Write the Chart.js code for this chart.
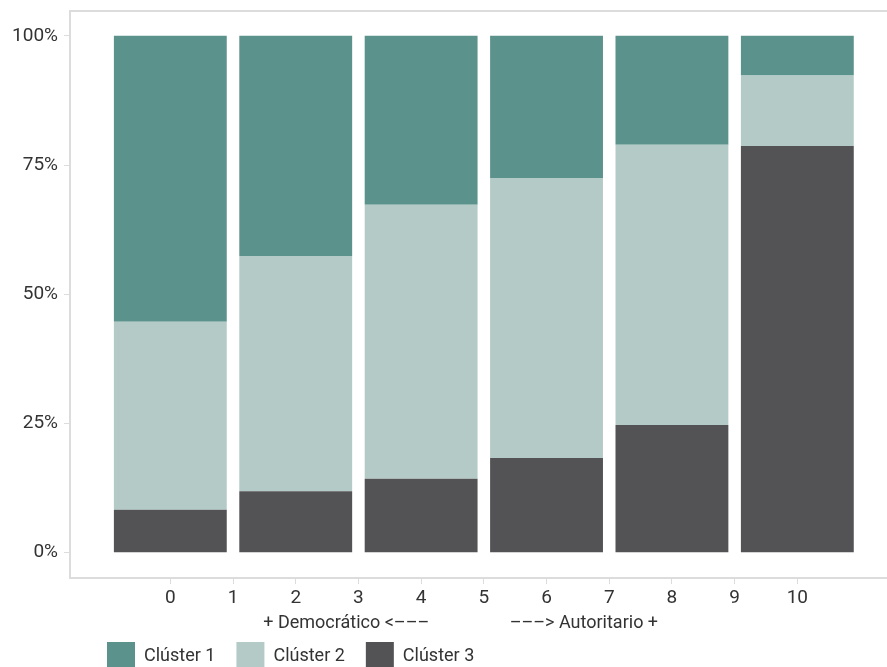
<!DOCTYPE html>
<html>
<head>
<meta charset="utf-8">
<script src="https://cdn.jsdelivr.net/npm/chart.js@4.4.1/dist/chart.umd.min.js"></script>
<style>
    body { margin: 0; background: #fff; }
    #wrap { width: 887px; height: 667px; }
</style>
</head>
<body>
<div id="wrap"><canvas id="myChart"></canvas></div>
<script>
// Positions on the scale (0 = más democrático, 10 = más autoritario)
const positions = [0, 2, 4, 6, 8, 10];
const xTicks = [0, 1, 2, 3, 4, 5, 6, 7, 8, 9, 10];
const yTicks = [0, 25, 50, 75, 100];

// Share of each cluster (%) per position
const cluster1 = [55.3, 42.6, 32.7, 27.5, 21.1, 7.7];
const cluster2 = [36.4, 45.5, 53.0, 54.2, 54.2, 13.6];
const cluster3 = [8.3, 11.9, 14.3, 18.3, 24.7, 78.7];

const seriesNames = ["Clúster 1", "Clúster 2", "Clúster 3"];
const colors = ["#5b928b", "#b3cac7", "#535355"];

const axisGrey = "#dcdcdc";
const textColor = "#333333";
const fontFamily = "Roboto, 'Noto Sans', sans-serif";

function toPoints(values) {
    return positions.map((x, i) => ({ x: x, y: values[i] }));
}

// top edge of the plot frame
const topLine = {
    id: "topLine",
    afterDraw(chart) {
        const { ctx, chartArea } = chart;
        ctx.save();
        ctx.strokeStyle = axisGrey;
        ctx.lineWidth = 2;
        ctx.beginPath();
        ctx.moveTo(chartArea.left, chartArea.top);
        ctx.lineTo(chartArea.right, chartArea.top);
        ctx.stroke();
        ctx.restore();
    }
};

// put the legend under the axis title, lined up like the original
const moveLegend = {
    id: "moveLegend",
    afterLayout(chart) {
        const lg = chart.legend;
        const pad = lg.options.labels.padding;
        lg.left = 107 - pad;
        lg.top = 642 - pad;
        lg.bottom = chart.height;
    }
};

const ctx = document.getElementById("myChart").getContext("2d");
new Chart(ctx, {
    type: "bar",
    data: {
        datasets: [
            { label: seriesNames[0], data: toPoints(cluster1), backgroundColor: colors[0], order: 3 },
            { label: seriesNames[1], data: toPoints(cluster2), backgroundColor: colors[1], order: 2 },
            { label: seriesNames[2], data: toPoints(cluster3), backgroundColor: colors[2], order: 1 }
        ]
    },
    options: {
        responsive: true,
        maintainAspectRatio: false,
        animation: false,
        barPercentage: 1.8,
        categoryPercentage: 1.0,
        layout: { padding: { top: 11, right: 0, bottom: 0, left: 0 } },
        plugins: {
            tooltip: { enabled: false },
            legend: {
                position: "bottom",
                align: "start",
                maxHeight: 1,
                labels: {
                    boxWidth: 28,
                    boxHeight: 28,
                    padding: 21,
                    color: textColor,
                    font: { family: fontFamily, size: 18 },
                    sort: (a, b) => a.datasetIndex - b.datasetIndex
                }
            }
        },
        scales: {
            x: {
                type: "linear",
                stacked: true,
                offset: false,
                min: -1.6,
                max: 11.43,
                afterBuildTicks: (s) => { s.ticks = xTicks.map(v => ({ value: v })); },
                afterFit: (s) => { s.height = 88; s.paddingLeft = 0; s.paddingRight = 0; },
                grid: { offset: false, drawOnChartArea: false, drawTicks: true, tickLength: 6, color: axisGrey },
                border: { color: axisGrey, width: 2 },
                ticks: {
                    padding: 3,
                    color: textColor,
                    font: { family: fontFamily, size: 19 },
                    maxRotation: 0
                },
                title: {
                    display: true,
                    text: "+ Democrático <–––                  –––> Autoritario +        ",
                    color: textColor,
                    font: { family: fontFamily, size: 18 },
                    padding: { top: 0, bottom: 32 }
                }
            },
            y: {
                stacked: true,
                min: -4.9,
                max: 104.8,
                afterBuildTicks: (s) => { s.ticks = yTicks.map(v => ({ value: v })); },
                afterFit: (s) => { s.width = 70; s.paddingTop = 0; s.paddingBottom = 0; },
                grid: { drawOnChartArea: false, drawTicks: true, tickLength: 6, color: axisGrey },
                border: { color: axisGrey, width: 2 },
                ticks: {
                    padding: 6,
                    color: textColor,
                    font: { family: fontFamily, size: 19 },
                    callback: (v) => v + "%"
                }
            }
        }
    },
    plugins: [topLine, moveLegend]
});
</script>
</body>
</html>
